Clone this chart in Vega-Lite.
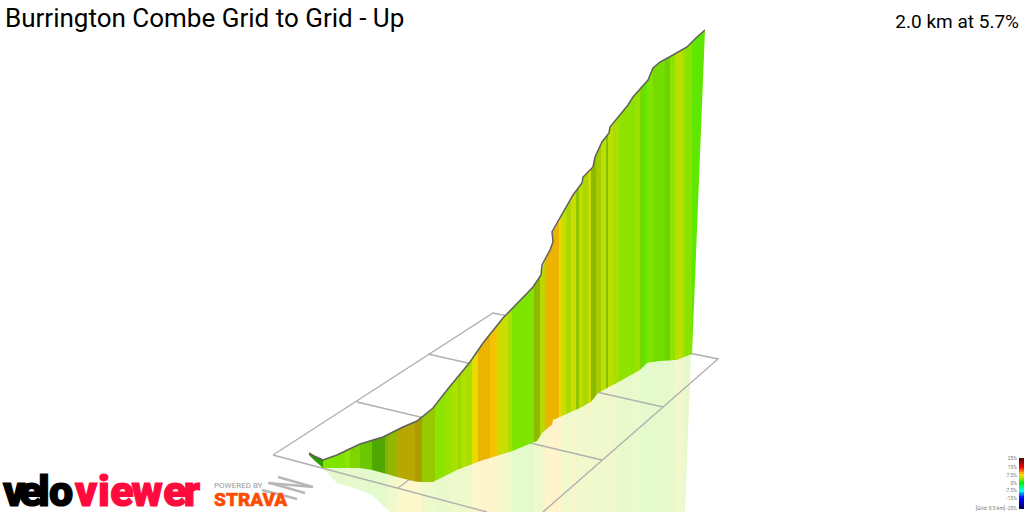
{
"$schema":"https://vega.github.io/schema/vega-lite/v6.json",
"width":1024,"height":512,"padding":0,"autosize":{"type":"none"},
"background":"white",
"config":{"view":{"stroke":null}},
"encoding":{"x":{"field":"x","type":"quantitative","scale":{"domain":[0,1024],"nice":false,"zero":false},"axis":null}},
"datasets":{
"ribbon":[
{"id":1,"x":309,"t":453,"b":455,"r":455,"g":2.2,"s":0.34},{"id":1,"x":314,"t":456,"b":460,"r":460,"g":2.2,"s":0.34},{"id":1,"x":323,"t":460,"b":468,"r":468,"g":2.2,"s":0.34},
{"id":2,"x":323,"t":460,"b":468,"r":468.5,"g":3.7,"s":0},{"id":2,"x":337,"t":455,"b":468,"r":483,"g":3.7,"s":0},{"id":2,"x":345,"t":451.2,"b":468,"r":485.4,"g":3.7,"s":0},
{"id":3,"x":345,"t":451.2,"b":468,"r":485.4,"g":4.2,"s":0},{"id":3,"x":350,"t":448.8,"b":468,"r":486.9,"g":4.2,"s":0},
{"id":4,"x":350,"t":448.8,"b":468,"r":486.9,"g":4,"s":0.06},{"id":4,"x":360,"t":444,"b":468,"r":490,"g":4,"s":0.06},
{"id":5,"x":360,"t":444,"b":468,"r":490,"g":3.6,"s":0.12},{"id":5,"x":372,"t":440.3,"b":469.9,"r":494.9,"g":3.6,"s":0.12},
{"id":6,"x":372,"t":440.3,"b":469.9,"r":494.9,"g":3.2,"s":0.27},{"id":6,"x":385,"t":436,"b":473.4,"r":507.3,"g":3.2,"s":0.27},
{"id":7,"x":385,"t":436,"b":473.4,"r":507.3,"g":4.5,"s":0.2},{"id":7,"x":388,"t":434.5,"b":474.3,"r":510,"g":4.5,"s":0.2},
{"id":8,"x":388,"t":434.5,"b":474.3,"r":510,"g":5.3,"s":0.18},{"id":8,"x":390,"t":433.5,"b":474.9,"r":512,"g":5.3,"s":0.18},{"id":8,"x":397,"t":430,"b":477,"r":512,"g":5.3,"s":0.18},
{"id":9,"x":397,"t":430,"b":477,"r":512,"g":7,"s":0.23},{"id":9,"x":403,"t":427,"b":478.5,"r":512,"g":7,"s":0.23},{"id":9,"x":415,"t":421.9,"b":481.5,"r":512,"g":7,"s":0.23},
{"id":10,"x":415,"t":421.9,"b":481.5,"r":512,"g":7,"s":0.28},{"id":10,"x":422,"t":417,"b":482,"r":512,"g":7,"s":0.28},
{"id":11,"x":422,"t":417,"b":482,"r":512,"g":5,"s":0.1},{"id":11,"x":433,"t":408,"b":482,"r":512,"g":5,"s":0.1},{"id":11,"x":435,"t":405.4,"b":481,"r":512,"g":5,"s":0.1},
{"id":12,"x":435,"t":405.4,"b":481,"r":512,"g":4.2,"s":0},{"id":12,"x":445,"t":392.6,"b":476,"r":512,"g":4.2,"s":0},
{"id":13,"x":445,"t":392.6,"b":476,"r":512,"g":4.5,"s":0},{"id":13,"x":452,"t":383.9,"b":472.5,"r":512,"g":4.5,"s":0},
{"id":14,"x":452,"t":383.9,"b":472.5,"r":512,"g":5,"s":0},{"id":14,"x":458,"t":376.6,"b":469.6,"r":512,"g":5,"s":0},
{"id":47,"x":458,"t":376.6,"b":469.6,"r":512,"g":4.7,"s":0.03},{"id":47,"x":461,"t":372.9,"b":468.5,"r":512,"g":4.7,"s":0.03},
{"id":48,"x":461,"t":372.9,"b":468.5,"r":512,"g":5.2,"s":0},{"id":48,"x":466,"t":366.9,"b":466.5,"r":512,"g":5.2,"s":0},
{"id":49,"x":466,"t":366.9,"b":466.5,"r":512,"g":4.9,"s":0},{"id":49,"x":470,"t":362,"b":465,"r":512,"g":4.9,"s":0},{"id":49,"x":472,"t":359.1,"b":464.2,"r":512,"g":4.9,"s":0},
{"id":15,"x":472,"t":359.1,"b":464.2,"r":512,"g":6.7,"s":0},{"id":15,"x":478,"t":350.3,"b":462,"r":512,"g":6.7,"s":0},
{"id":16,"x":478,"t":350.3,"b":462,"r":512,"g":8.2,"s":0.08},{"id":16,"x":483,"t":343,"b":460,"r":512,"g":8.2,"s":0.08},{"id":16,"x":490,"t":334.3,"b":458,"r":512,"g":8.2,"s":0.08},
{"id":17,"x":490,"t":334.3,"b":458,"r":512,"g":7.9,"s":0.04},{"id":17,"x":498,"t":324.3,"b":455.6,"r":512,"g":7.9,"s":0.04},
{"id":18,"x":498,"t":324.3,"b":455.6,"r":512,"g":5.9,"s":0},{"id":18,"x":503,"t":318,"b":454.1,"r":512,"g":5.9,"s":0},{"id":18,"x":508,"t":312.8,"b":452.6,"r":512,"g":5.9,"s":0},
{"id":19,"x":508,"t":312.8,"b":452.6,"r":512,"g":5,"s":0},{"id":19,"x":512,"t":308.7,"b":451.2,"r":512,"g":5,"s":0},
{"id":20,"x":512,"t":308.7,"b":451.2,"r":512,"g":3.7,"s":0},{"id":20,"x":533,"t":287,"b":442.6,"r":512,"g":3.7,"s":0},{"id":20,"x":534,"t":285.5,"b":442.2,"r":512,"g":3.7,"s":0},
{"id":21,"x":534,"t":285.5,"b":442.2,"r":512,"g":5,"s":0.17},{"id":21,"x":537,"t":281,"b":441,"r":512,"g":5,"s":0.17},{"id":21,"x":540,"t":276.5,"b":436.5,"r":512,"g":5,"s":0.17},
{"id":22,"x":540,"t":276.5,"b":436.5,"r":512,"g":5.7,"s":0.03},{"id":22,"x":541,"t":275,"b":435,"r":512,"g":5.7,"s":0.03},{"id":22,"x":543,"t":265,"b":432,"r":512,"g":5.7,"s":0.03},{"id":22,"x":545,"t":260.7,"b":430.4,"r":512,"g":5.7,"s":0.03},
{"id":23,"x":545,"t":260.7,"b":430.4,"r":512,"g":8.2,"s":0.08},{"id":23,"x":550,"t":250,"b":426.1,"r":512,"g":8.2,"s":0.08},{"id":23,"x":552,"t":244,"b":425,"r":512,"g":8.2,"s":0.08},{"id":23,"x":553,"t":232,"b":420,"r":512,"g":8.2,"s":0.08},{"id":23,"x":556,"t":226.5,"b":418.7,"r":512,"g":8.2,"s":0.08},{"id":23,"x":559,"t":221,"b":417.3,"r":512,"g":8.2,"s":0.08},
{"id":24,"x":559,"t":221,"b":417.3,"r":512,"g":6.9,"s":0},{"id":24,"x":561,"t":217.2,"b":416.4,"r":512,"g":6.9,"s":0},
{"id":25,"x":561,"t":217.2,"b":416.4,"r":512,"g":5.9,"s":0},{"id":25,"x":566,"t":208,"b":414.2,"r":512,"g":5.9,"s":0},
{"id":26,"x":566,"t":208,"b":414.2,"r":512,"g":5.2,"s":0.03},{"id":26,"x":571,"t":198.7,"b":412,"r":512,"g":5.2,"s":0.03},
{"id":27,"x":571,"t":198.7,"b":412,"r":512,"g":5.9,"s":0},{"id":27,"x":573,"t":195,"b":411.1,"r":512,"g":5.9,"s":0},{"id":27,"x":576,"t":191,"b":409.8,"r":512,"g":5.9,"s":0},
{"id":28,"x":576,"t":191,"b":409.8,"r":512,"g":4.9,"s":0.12},{"id":28,"x":579,"t":187,"b":408.4,"r":512,"g":4.9,"s":0.12},
{"id":50,"x":579,"t":187,"b":408.4,"r":512,"g":5.6,"s":0},{"id":50,"x":582,"t":183,"b":407,"r":512,"g":5.6,"s":0},{"id":50,"x":583,"t":177,"b":406.5,"r":512,"g":5.6,"s":0},
{"id":29,"x":583,"t":177,"b":406.5,"r":512,"g":5.2,"s":0.03},{"id":29,"x":588,"t":172,"b":403.6,"r":512,"g":5.2,"s":0.03},
{"id":30,"x":588,"t":172,"b":403.6,"r":512,"g":5.9,"s":0},{"id":30,"x":591,"t":169,"b":402,"r":512,"g":5.9,"s":0},
{"id":51,"x":591,"t":169,"b":402,"r":512,"g":5,"s":0.17},{"id":51,"x":593,"t":167,"b":399.4,"r":512,"g":5,"s":0.17},{"id":51,"x":595,"t":157,"b":396.9,"r":512,"g":5,"s":0.17},{"id":51,"x":596,"t":154.9,"b":395.6,"r":512,"g":5,"s":0.17},
{"id":31,"x":596,"t":154.9,"b":395.6,"r":512,"g":5.2,"s":0.08},{"id":31,"x":598,"t":150.6,"b":393,"r":512,"g":5.2,"s":0.08},{"id":31,"x":601,"t":144.1,"b":391.4,"r":512,"g":5.2,"s":0.08},
{"id":32,"x":601,"t":144.1,"b":391.4,"r":512,"g":5.6,"s":0},{"id":32,"x":602,"t":142,"b":390.9,"r":512,"g":5.6,"s":0},{"id":32,"x":606,"t":136.9,"b":388.7,"r":512,"g":5.6,"s":0},
{"id":52,"x":606,"t":136.9,"b":388.7,"r":512,"g":4.5,"s":0.15},{"id":52,"x":608,"t":134.3,"b":387.6,"r":512,"g":4.5,"s":0.15},
{"id":33,"x":608,"t":134.3,"b":387.6,"r":512,"g":5.4,"s":0},{"id":33,"x":609,"t":133,"b":387.1,"r":512,"g":5.4,"s":0},{"id":33,"x":610,"t":127,"b":386.6,"r":512,"g":5.4,"s":0},{"id":33,"x":613,"t":123.3,"b":385,"r":512,"g":5.4,"s":0},
{"id":34,"x":613,"t":123.3,"b":385,"r":512,"g":4.9,"s":0},{"id":34,"x":619,"t":116,"b":381.7,"r":512,"g":4.9,"s":0},
{"id":35,"x":619,"t":116,"b":381.7,"r":512,"g":4.2,"s":0},{"id":35,"x":628,"t":105,"b":376.7,"r":512,"g":4.2,"s":0},{"id":35,"x":631,"t":100.2,"b":375,"r":512,"g":4.2,"s":0},
{"id":53,"x":631,"t":100.2,"b":375,"r":512,"g":4,"s":0},{"id":53,"x":633,"t":97,"b":373.9,"r":512,"g":4,"s":0},
{"id":36,"x":633,"t":97,"b":373.9,"r":512,"g":4.5,"s":0},{"id":36,"x":640,"t":89.1,"b":370,"r":512,"g":4.5,"s":0},
{"id":37,"x":640,"t":89.1,"b":370,"r":512,"g":3.8,"s":0.06},{"id":37,"x":644,"t":84.5,"b":366,"r":512,"g":3.8,"s":0.06},
{"id":38,"x":644,"t":84.5,"b":366,"r":512,"g":2.8,"s":0},{"id":38,"x":647,"t":81.1,"b":363,"r":512,"g":2.8,"s":0},
{"id":39,"x":647,"t":81.1,"b":363,"r":512,"g":3.8,"s":0},{"id":39,"x":648,"t":80,"b":362.8,"r":512,"g":3.8,"s":0},{"id":39,"x":653,"t":68,"b":362,"r":512,"g":3.8,"s":0},
{"id":40,"x":653,"t":68,"b":362,"r":512,"g":3.5,"s":0.03},{"id":40,"x":660,"t":62,"b":361,"r":512,"g":3.5,"s":0.03},{"id":40,"x":665,"t":59.3,"b":360.7,"r":512,"g":3.5,"s":0.03},
{"id":41,"x":665,"t":59.3,"b":360.7,"r":512,"g":3.3,"s":0.07},{"id":41,"x":670,"t":56.6,"b":360.4,"r":512,"g":3.3,"s":0.07},
{"id":42,"x":670,"t":56.6,"b":360.4,"r":512,"g":4.2,"s":0},{"id":42,"x":673,"t":55,"b":360.2,"r":512,"g":4.2,"s":0},{"id":42,"x":675,"t":53.9,"b":360,"r":512,"g":4.2,"s":0},
{"id":43,"x":675,"t":53.9,"b":360,"r":512,"g":5.6,"s":0},{"id":43,"x":677,"t":52.7,"b":360,"r":512,"g":5.6,"s":0},{"id":43,"x":682,"t":49.9,"b":358,"r":512,"g":5.6,"s":0},
{"id":44,"x":682,"t":49.9,"b":358,"r":512,"g":4.9,"s":0},{"id":44,"x":685,"t":48.1,"b":356.8,"r":512,"g":4.9,"s":0},
{"id":45,"x":685,"t":48.1,"b":356.8,"r":512,"g":4,"s":0},{"id":45,"x":687,"t":47,"b":356,"r":460,"g":4,"s":0},{"id":45,"x":688,"t":46,"b":355.6,"r":434,"g":4,"s":0},{"id":45,"x":691,"t":43,"b":354.4,"r":356,"g":4,"s":0},{"id":45,"x":692,"t":42,"b":354,"r":354,"g":4,"s":0},
{"id":46,"x":692,"t":42,"b":354,"r":354,"g":2.8,"s":0},{"id":46,"x":695,"t":39,"b":279.2,"r":279.2,"g":2.8,"s":0},{"id":46,"x":697,"t":37,"b":229.4,"r":229.4,"g":2.8,"s":0},{"id":46,"x":705,"t":30,"b":30,"r":30,"g":2.8,"s":0}
],
"top":[
{"i":1,"x":309,"y":453},{"i":2,"x":314,"y":456},{"i":3,"x":323,"y":460},{"i":4,"x":337,"y":455},{"i":5,"x":360,"y":444},{"i":6,"x":383,"y":437},{"i":7,"x":403,"y":427},{"i":8,"x":417,"y":421},{"i":9,"x":433,"y":408},{"i":10,"x":447,"y":390},{"i":11,"x":470,"y":362},{"i":12,"x":483,"y":343},{"i":13,"x":503,"y":318},{"i":14,"x":533,"y":287},{"i":15,"x":541,"y":275},{"i":16,"x":542,"y":265},{"i":17,"x":550,"y":250},{"i":18,"x":553,"y":242},{"i":19,"x":552,"y":232},{"i":20,"x":573,"y":195},{"i":21,"x":582,"y":183},{"i":22,"x":583,"y":177},{"i":23,"x":593,"y":167},{"i":24,"x":595,"y":157},{"i":25,"x":602,"y":142},{"i":26,"x":609,"y":133},{"i":27,"x":610,"y":127},{"i":28,"x":628,"y":105},{"i":29,"x":633,"y":97},{"i":30,"x":648,"y":80},{"i":31,"x":653,"y":68},{"i":32,"x":660,"y":62},{"i":33,"x":673,"y":55},{"i":34,"x":687,"y":47},{"i":35,"x":697,"y":37},{"i":36,"x":705,"y":30}
],
"grid":[
{"k":"a","i":1,"x":273,"y":455},{"k":"a","i":2,"x":493,"y":313},{"k":"a","i":3,"x":718,"y":359},{"k":"a","i":4,"x":543,"y":512},
{"k":"b","i":1,"x":273,"y":455},{"k":"b","i":2,"x":487,"y":512},
{"k":"c","i":1,"x":357,"y":402},{"k":"c","i":2,"x":602,"y":460},
{"k":"d","i":1,"x":428,"y":354},{"k":"d","i":2,"x":663,"y":407},
{"k":"e","i":1,"x":398,"y":488},{"k":"e","i":2,"x":410,"y":479}
],
"north":[
{"k":"a","i":1,"x":278,"y":477},{"k":"a","i":2,"x":313,"y":487},
{"k":"b","i":1,"x":313,"y":487},{"k":"b","i":2,"x":268,"y":483},
{"k":"c","i":1,"x":270,"y":483},{"k":"c","i":2,"x":305,"y":493},
{"k":"d","i":1,"x":262,"y":490},{"k":"d","i":2,"x":297,"y":499}
],
"scalebar":[
{"x":1019,"xe":1024,"y":458,"y2":460,"g":25},{"x":1019,"xe":1024,"y":460,"y2":462,"g":22},{"x":1019,"xe":1024,"y":462,"y2":464,"g":20},{"x":1019,"xe":1024,"y":464,"y2":466,"g":17},{"x":1019,"xe":1024,"y":466,"y2":468,"g":15},{"x":1019,"xe":1024,"y":468,"y2":470,"g":13},{"x":1019,"xe":1024,"y":470,"y2":472,"g":11},{"x":1019,"xe":1024,"y":472,"y2":474,"g":9},{"x":1019,"xe":1024,"y":474,"y2":476,"g":7.5},{"x":1019,"xe":1024,"y":476,"y2":478,"g":6},{"x":1019,"xe":1024,"y":478,"y2":480,"g":4},{"x":1019,"xe":1024,"y":480,"y2":482,"g":2},{"x":1019,"xe":1024,"y":482,"y2":484,"g":0},{"x":1019,"xe":1024,"y":484,"y2":486,"g":-2},{"x":1019,"xe":1024,"y":486,"y2":488,"g":-4},{"x":1019,"xe":1024,"y":488,"y2":490,"g":-6},{"x":1019,"xe":1024,"y":490,"y2":492,"g":-7.5},{"x":1019,"xe":1024,"y":492,"y2":494,"g":-10},{"x":1019,"xe":1024,"y":494,"y2":496,"g":-12},{"x":1019,"xe":1024,"y":496,"y2":498,"g":-14},{"x":1019,"xe":1024,"y":498,"y2":500,"g":-15},{"x":1019,"xe":1024,"y":500,"y2":502,"g":-17},{"x":1019,"xe":1024,"y":502,"y2":504,"g":-19},{"x":1019,"xe":1024,"y":504,"y2":506,"g":-21},{"x":1019,"xe":1024,"y":506,"y2":509,"g":-25}
],
"labels":[
{"set":"title","x":5,"y":27,"text":"Burrington Combe Grid to Grid - Up"},
{"set":"stat","x":1019,"y":28,"text":"2.0 km at 5.7%"},
{"set":"black","x":14,"y":506,"text":"v"},{"set":"black","x":31,"y":506,"text":"e"},{"set":"black","x":44,"y":506,"text":"l"},{"set":"black","x":61,"y":506,"text":"o"},
{"set":"red","x":86,"y":506,"text":"v"},{"set":"red","x":104,"y":506,"text":"i"},{"set":"red","x":122,"y":506,"text":"e"},{"set":"red","x":147,"y":506,"text":"w"},{"set":"red","x":175,"y":506,"text":"e"},{"set":"red","x":192,"y":506,"text":"r"},
{"set":"strava","x":214,"y":506,"text":"STRAVA"},
{"set":"powered","x":214,"y":488,"text":"POWERED BY"},
{"set":"scale","x":1017,"y":460,"text":"25%"},{"set":"scale","x":1017,"y":469,"text":"15%"},{"set":"scale","x":1017,"y":477,"text":"7.5%"},{"set":"scale","x":1017,"y":485,"text":"0%"},{"set":"scale","x":1017,"y":492,"text":"-7.5%"},{"set":"scale","x":1017,"y":500,"text":"-15%"},{"set":"scale","x":1017,"y":510,"text":"[Grid: 0.5 km] -25%"}
]
},
"layer":[
{"data":{"name":"ribbon"},"transform":[{"filter":"datum.r > datum.b"}],
 "mark":{"type":"area","opacity":0.2},
 "encoding":{
 "y":{"field":"b","type":"quantitative","scale":{"domain":[512,0],"nice":false,"zero":false},"axis":null},"y2":{"field":"r"},"detail":{"field":"id"},
 "color":{"field":"g","type":"quantitative","legend":null,"scale":{"domain":[-25,-15,-7.5,0,7.5,15,25],"range":["#000060","#0000ff","#00ffff","#00f000","#ffd800","#f00000","#600000"],"interpolate":"rgb"}}}},
{"data":{"name":"grid"},"mark":{"type":"line","stroke":"#b0b0b0","strokeWidth":1.4},
 "encoding":{"y":{"field":"y","type":"quantitative","scale":{"domain":[512,0],"nice":false,"zero":false},"axis":null},"detail":{"field":"k"},"order":{"field":"i","type":"quantitative"}}},
{"data":{"name":"ribbon"},"mark":{"type":"area"},
 "encoding":{"y":{"field":"t","type":"quantitative","scale":{"domain":[512,0],"nice":false,"zero":false},"axis":null},"y2":{"field":"b"},"detail":{"field":"id"},
 "color":{"field":"g","type":"quantitative","legend":null,"scale":{"domain":[-25,-15,-7.5,0,7.5,15,25],"range":["#000060","#0000ff","#00ffff","#00f000","#ffd800","#f00000","#600000"],"interpolate":"rgb"}}}},
{"data":{"name":"ribbon"},"transform":[{"filter":"datum.s > 0"}],"mark":{"type":"area","fill":"#000"},
 "encoding":{"y":{"field":"t","type":"quantitative","scale":{"domain":[512,0],"nice":false,"zero":false},"axis":null},"y2":{"field":"b"},"detail":{"field":"id"},
 "opacity":{"field":"s","type":"quantitative","scale":null}}},
{"data":{"name":"top"},"mark":{"type":"line","stroke":"#5f5f5f","strokeWidth":1.5},
 "encoding":{"y":{"field":"y","type":"quantitative","scale":{"domain":[512,0],"nice":false,"zero":false},"axis":null},"order":{"field":"i","type":"quantitative"}}},
{"data":{"name":"north"},"mark":{"type":"line","stroke":"#b8b8b8","strokeWidth":2.4},
 "encoding":{"y":{"field":"y","type":"quantitative","scale":{"domain":[512,0],"nice":false,"zero":false},"axis":null},"detail":{"field":"k"},"order":{"field":"i","type":"quantitative"}}},
{"data":{"name":"scalebar"},"mark":{"type":"rect"},
 "encoding":{"x2":{"field":"xe"},"y":{"field":"y","type":"quantitative","scale":{"domain":[512,0],"nice":false,"zero":false},"axis":null},"y2":{"field":"y2"},"color":{"field":"g","type":"quantitative","legend":null,"scale":{"domain":[-25,-15,-7.5,0,7.5,15,25],"range":["#000060","#0000ff","#00ffff","#00f000","#ffd800","#f00000","#600000"],"interpolate":"rgb"}}}},
{"data":{"name":"labels"},"transform":[{"filter":"datum.set=='title'"}],"mark":{"type":"text","font":"Roboto","fontSize":26,"align":"left","baseline":"alphabetic","fill":"#000"},
 "encoding":{"y":{"field":"y","type":"quantitative","scale":{"domain":[512,0],"nice":false,"zero":false},"axis":null},"text":{"field":"text"}}},
{"data":{"name":"labels"},"transform":[{"filter":"datum.set=='stat'"}],"mark":{"type":"text","font":"Roboto","fontSize":19,"align":"right","baseline":"alphabetic","fill":"#000"},
 "encoding":{"y":{"field":"y","type":"quantitative","scale":{"domain":[512,0],"nice":false,"zero":false},"axis":null},"text":{"field":"text"}}},
{"data":{"name":"labels"},"transform":[{"filter":"datum.set=='black'"}],"mark":{"type":"text","font":"Roboto","fontWeight":900,"fontSize":43,"align":"center","baseline":"alphabetic","fill":"#000","stroke":"#000","strokeWidth":1.2},
 "encoding":{"y":{"field":"y","type":"quantitative","scale":{"domain":[512,0],"nice":false,"zero":false},"axis":null},"text":{"field":"text"}}},
{"data":{"name":"labels"},"transform":[{"filter":"datum.set=='red'"}],"mark":{"type":"text","font":"Roboto","fontWeight":900,"fontSize":43,"align":"center","baseline":"alphabetic","fill":"#ff0a3c","stroke":"#ff0a3c","strokeWidth":1.2},
 "encoding":{"y":{"field":"y","type":"quantitative","scale":{"domain":[512,0],"nice":false,"zero":false},"axis":null},"text":{"field":"text"}}},
{"data":{"name":"labels"},"transform":[{"filter":"datum.set=='strava'"}],"mark":{"type":"text","font":"Roboto","fontWeight":900,"fontSize":19,"align":"left","baseline":"alphabetic","fill":"#fc4c02","stroke":"#fc4c02","strokeWidth":0.5},
 "encoding":{"y":{"field":"y","type":"quantitative","scale":{"domain":[512,0],"nice":false,"zero":false},"axis":null},"text":{"field":"text"}}},
{"data":{"name":"labels"},"transform":[{"filter":"datum.set=='powered'"}],"mark":{"type":"text","font":"Roboto","fontSize":8,"align":"left","baseline":"alphabetic","fill":"#999"},
 "encoding":{"y":{"field":"y","type":"quantitative","scale":{"domain":[512,0],"nice":false,"zero":false},"axis":null},"text":{"field":"text"}}},
{"data":{"name":"labels"},"transform":[{"filter":"datum.set=='scale'"}],"mark":{"type":"text","font":"Roboto","fontSize":5,"align":"right","baseline":"alphabetic","fill":"#777"},
 "encoding":{"y":{"field":"y","type":"quantitative","scale":{"domain":[512,0],"nice":false,"zero":false},"axis":null},"text":{"field":"text"}}}
]
}
